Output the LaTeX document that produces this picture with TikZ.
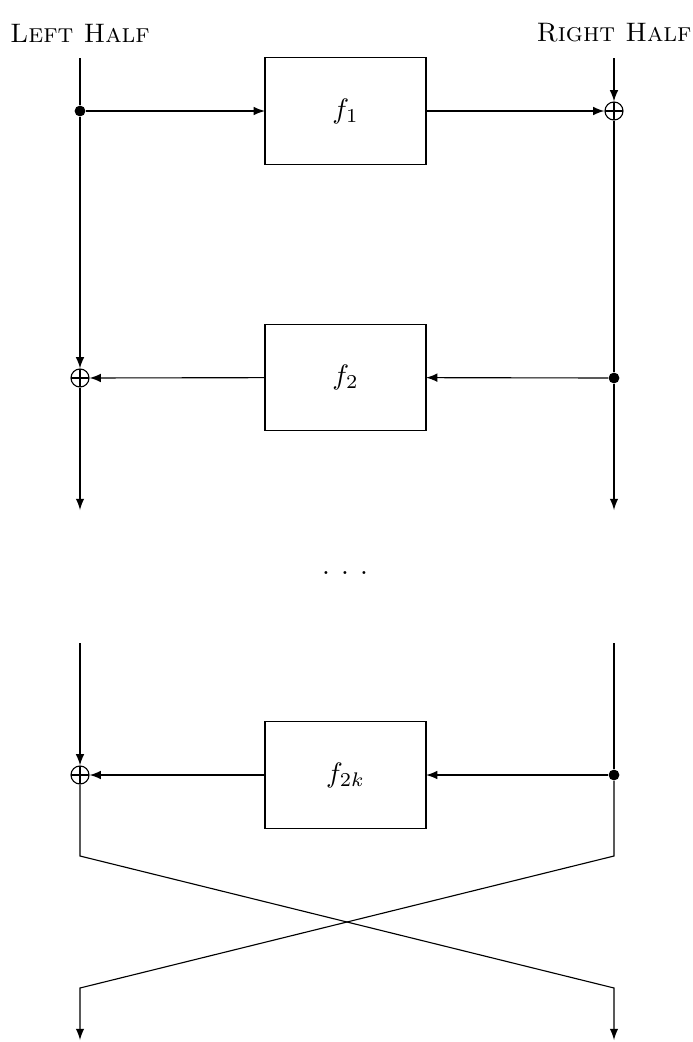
\documentclass[tikz,border=0pt]{standalone}
\usetikzlibrary{arrows, positioning}
\begin{document}
\begin{tikzpicture}[x=0.0125cm, y=-0.0125cm, >=latex,
    FBox/.style={draw, minimum width=2.0125cm, minimum height=1.33cm,
                outer sep=0pt},
    XorNode/.style={circle, draw, inner sep=0pt, minimum size=0.225cm,
                path picture={\draw (path picture bounding box.north) -- (path picture bounding box.south)
                  (path picture bounding box.west) -- (path picture bounding box.east);}},
    DotNode/.style={circle, fill, inner sep=0pt, minimum size=1.35mm},
    HalfLabel/.style={font=\fontsize{9.5}{11}\selectfont},
  ]
\useasboundingbox (0,0) rectangle (692,1042);

\node[HalfLabel] (lefthalf) at (80,33) {\textsc{Left Half}};
\node[HalfLabel] (righthalf) at (614,33) {\textsc{Right Half}};

% first two rounds
\coordinate (lt1) at (80,58);
\coordinate (rt1) at (614,58);
\node[DotNode] (ldot1) at (80,111) {};
\node[FBox] (f1) at (345.5,111) {$f_1$};
\node[XorNode] (rxor1) at (614,111) {};
\node[FBox] (f2) at (345.5,377.5) {$f_2$};
\node[XorNode] (lxor2) at (80,378) {};
\node[DotNode] (rdot2) at (614,378) {};
\coordinate (lb2) at (80,510);
\coordinate (rb2) at (614,510);

\draw (lt1) -- (ldot1);
\draw[->] (ldot1) -- (lxor2);
\draw[->] (lxor2) -- (lb2);
\draw[->] (rt1) -- (rxor1);
\draw (rxor1) -- (rdot2);
\draw[->] (rdot2) -- (rb2);
\draw[->] (ldot1) -- (f1);
\draw[->] (f1) -- (rxor1);
\draw[->] (rdot2) -- (f2);
\draw[->] (f2) -- (lxor2);

\node (dots) at (345,573) {.\hspace{4pt}.\hspace{4pt}.};

% last round and swap
\coordinate (lt3) at (80,643);
\coordinate (rt3) at (614,643);
\node[XorNode] (lxor3) at (80,775) {};
\node[FBox] (f3) at (345.5,775) {$f_{2k}$};
\node[DotNode] (rdot3) at (614,775) {};
\coordinate (lk1) at (80,856);
\coordinate (rk1) at (614,856);
\coordinate (lk2) at (80,988);
\coordinate (rk2) at (614,988);
\coordinate (lb3) at (80,1040);
\coordinate (rb3) at (614,1040);

\draw[->] (lt3) -- (lxor3);
\draw (rt3) -- (rdot3);
\draw[->] (rdot3) -- (f3);
\draw[->] (f3) -- (lxor3);
\draw[->] (lxor3) -- (lk1) -- (rk2) -- (rb3);
\draw[->] (rdot3) -- (rk1) -- (lk2) -- (lb3);
\end{tikzpicture}
\end{document}
